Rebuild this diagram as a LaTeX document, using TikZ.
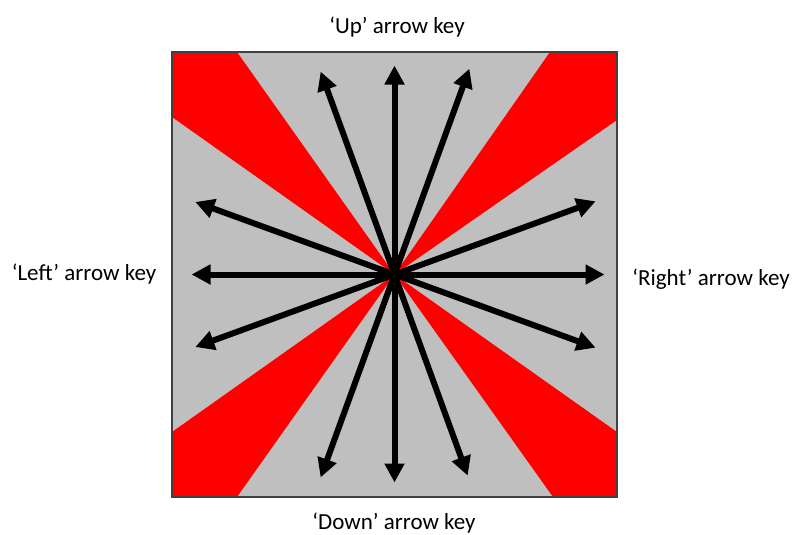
\documentclass[tikz,border=0pt]{standalone}
\usepackage{fontspec}
\setmainfont{Carlito}
\usetikzlibrary{arrows.meta,calc}
\definecolor{keygrey}{RGB}{191,191,191}
\definecolor{edgegrey}{RGB}{64,64,64}
\begin{document}
\begin{tikzpicture}[x=1pt,y=-1pt,
  dirarrow/.style={line width=6pt,-{Triangle[length=19pt,width=19pt]}},
  wedge/.style={fill=red},
  keylabel/.style={font=\fontsize{23}{26}\selectfont, text=black, inner sep=0pt}]
\useasboundingbox (0,0) rectangle (795,535);
\coordinate (c) at (394.5,274.5);
\fill[keygrey] (172,52) rectangle (617,497);
\fill[wedge] (c) -- (237,52) -- (172,52) -- (172,117) -- cycle;
\fill[wedge] (c) -- (550,52) -- (617,52) -- (617,120) -- cycle;
\fill[wedge] (c) -- (172,432) -- (172,497) -- (237,497) -- cycle;
\fill[wedge] (c) -- (617,432) -- (617,497) -- (553,497) -- cycle;
\draw[line width=1.4pt, edgegrey] (172,52) rectangle (617,497);
\foreach \a/\r in {0/210, 20/214, 70/214, 90/208, 110/216, 160/212, 180/203, 200/212, 250/216, 270/209, 290/219, 340/214}{
  \coordinate (t\a) at ($(c)+(\a:\r)$);
}
\foreach \a in {0,20,70,90,110,160,180,200,250,270,290,340}{
  \draw[dirarrow] (c) -- (t\a);
}
\node[keylabel] (up) at (397,27) {‘Up’ arrow key};
\node[keylabel] (left) at (84,274) {‘Left’ arrow key};
\node[keylabel] (right) at (711,279) {‘Right’ arrow key};
\node[keylabel] (down) at (394,523) {‘Down’ arrow key};
\end{tikzpicture}
\end{document}
